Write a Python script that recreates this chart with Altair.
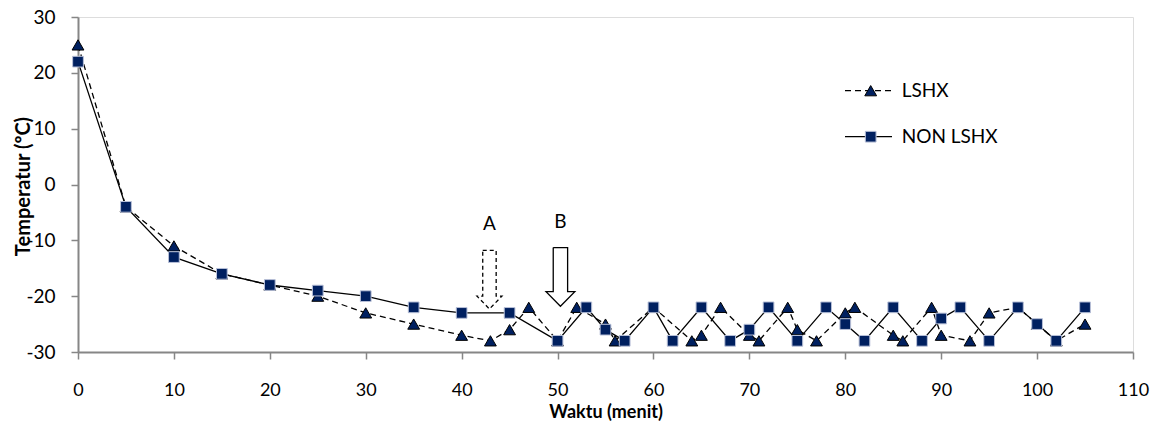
import altair as alt
import pandas as pd

# ---- data ----
series_names = ["LSHX", "NON LSHX"]

lshx_t = [0, 5, 10, 15, 20, 25, 30, 35, 40, 43, 45, 47, 50, 52, 55, 56, 60, 64, 65, 67,
          70, 71, 74, 75, 77, 80, 81, 85, 86, 89, 90, 93, 95, 98, 100, 102, 105]
lshx_v = [25, -4, -11, -16, -18, -20, -23, -25, -27, -28, -26, -22, -28, -22, -25, -28, -22, -28, -27, -22,
          -27, -28, -22, -26, -28, -23, -22, -27, -28, -22, -27, -28, -23, -22, -25, -28, -25]

non_t = [0, 5, 10, 15, 20, 25, 30, 35, 40, 45, 50, 53, 55, 57, 60, 62, 65, 68, 70, 72,
         75, 78, 80, 82, 85, 88, 90, 92, 95, 98, 100, 102, 105]
non_v = [22, -4, -13, -16, -18, -19, -20, -22, -23, -23, -28, -22, -26, -28, -22, -28, -22, -28, -26, -22,
         -28, -22, -25, -28, -22, -28, -24, -22, -28, -22, -25, -28, -22]

x_ticks = list(range(0, 111, 10))
y_ticks = list(range(-30, 31, 10))

# annotation anchors (label, centre x, label y, arrow top, head base, tip)
ann_labels = ["A", "B"]
ann_x = [42.9, 50.3]
ann_label_y = [-7.0, -6.7]
ann_top = [-11.8, -11.3]
ann_base = [-20.0, -19.2]
ann_tip = [-22.3, -21.8]

NAVY = "#002060"
GRAY = "#868686"
FONT = "Lato"

lshx = pd.DataFrame({"t": lshx_t, "v": lshx_v})
non = pd.DataFrame({"t": non_t, "v": non_v})

xs = alt.Scale(domain=[0, 110], nice=False, zero=False)
ys = alt.Scale(domain=[-30, 30], nice=False)

x_axis = alt.Axis(values=x_ticks, title="Waktu (menit)", grid=False, labelFlush=False,
                  labelFontSize=18, labelPadding=22, labelColor="black", labelFont=FONT,
                  tickSize=7, tickColor=GRAY, tickWidth=1.5, domainColor=GRAY, domainWidth=2,
                  titleFont=FONT, titleFontSize=18, titleFontWeight="bold", titleColor="black",
                  titleY=60, titleBaseline="middle")
y_axis = alt.Axis(values=y_ticks, title="Temperatur (ºC)", grid=False,
                  labelFontSize=19, labelPadding=16, labelColor="black", labelFont=FONT,
                  labelExpr="replace(datum.label, '\u2212', '-')",
                  tickSize=7, tickColor=GRAY, tickWidth=1.5, domainColor=GRAY, domainWidth=2,
                  titleFont=FONT, titleFontSize=20, titleFontWeight="bold", titleColor="black",
                  titleX=-55, titleY=169, titleAngle=-90, titleAlign="center", titleBaseline="middle")

X = alt.X("t:Q", scale=xs, axis=x_axis)
Y = alt.Y("v:Q", scale=ys, axis=y_axis)

lshx_line = alt.Chart(lshx).mark_line(color="black", strokeWidth=1.3, strokeDash=[6, 4]).encode(x=X, y=Y)
lshx_pts = alt.Chart(lshx).mark_point(shape="triangle-up", filled=True, fill=NAVY, stroke="black",
                                      strokeWidth=1, size=140, opacity=1).encode(x="t:Q", y="v:Q")
non_line = alt.Chart(non).mark_line(color="black", strokeWidth=1.3).encode(x="t:Q", y="v:Q")
non_pts = alt.Chart(non).mark_point(shape="square", filled=True, fill=NAVY, stroke="#b8c0d8",
                                    strokeWidth=1, size=115, opacity=1).encode(x="t:Q", y="v:Q")

# arrows built from anchors
rows = []
shaft = [0.7, 0.75]
head = [1.3, 1.5]
for i, lab in enumerate(ann_labels):
    cx, yt, yb, tip = ann_x[i], ann_top[i], ann_base[i], ann_tip[i]
    sw, hw = shaft[i], head[i]
    pts = [(cx - sw, yt), (cx + sw, yt), (cx + sw, yb), (cx + hw, yb), (cx, tip),
           (cx - hw, yb), (cx - sw, yb), (cx - sw, yt)]
    for k, (px, py) in enumerate(pts):
        rows.append({"arrow": lab, "k": k, "t": px, "v": py})
arrows = pd.DataFrame(rows)

arrow_a = alt.Chart(arrows[arrows.arrow == "A"]).mark_line(color="black", strokeWidth=1.3,
                                                          strokeDash=[4, 3]).encode(
    x="t:Q", y="v:Q", order="k:Q")
arrow_b = alt.Chart(arrows[arrows.arrow == "B"]).mark_line(color="black", strokeWidth=1.3).encode(
    x="t:Q", y="v:Q", order="k:Q")

ann_df = pd.DataFrame({"label": ann_labels, "t": ann_x, "v": ann_label_y})
ann_text = alt.Chart(ann_df).mark_text(fontSize=19, font=FONT, color="black").encode(
    x="t:Q", y="v:Q", text="label:N")

# manual legend (pixel positions inside plot area)
leg_df = pd.DataFrame({"label": series_names})
leg_rows_y = [73.7, 119.7]
leg_l1 = alt.Chart(leg_df[leg_df.label == series_names[0]]).mark_rule(
    color="black", strokeWidth=1.3, strokeDash=[6, 4]).encode(
    x=alt.value(767), x2=alt.value(814), y=alt.value(leg_rows_y[0]))
leg_p1 = alt.Chart(leg_df[leg_df.label == series_names[0]]).mark_point(
    shape="triangle-up", filled=True, fill=NAVY, stroke="black", strokeWidth=1, size=140, opacity=1).encode(
    x=alt.value(792.7), y=alt.value(leg_rows_y[0]))
leg_t1 = alt.Chart(leg_df[leg_df.label == series_names[0]]).mark_text(
    align="left", baseline="middle", fontSize=19, font=FONT, color="black").encode(
    x=alt.value(823.7), y=alt.value(leg_rows_y[0]), text="label:N")
leg_l2 = alt.Chart(leg_df[leg_df.label == series_names[1]]).mark_rule(
    color="black", strokeWidth=1.3).encode(
    x=alt.value(767), x2=alt.value(814), y=alt.value(leg_rows_y[1]))
leg_p2 = alt.Chart(leg_df[leg_df.label == series_names[1]]).mark_point(
    shape="square", filled=True, fill=NAVY, stroke="#b8c0d8", strokeWidth=1, size=115, opacity=1).encode(
    x=alt.value(792.7), y=alt.value(leg_rows_y[1]))
leg_t2 = alt.Chart(leg_df[leg_df.label == series_names[1]]).mark_text(
    align="left", baseline="middle", fontSize=19, font=FONT, color="black").encode(
    x=alt.value(823.7), y=alt.value(leg_rows_y[1]), text="label:N")

chart = alt.layer(
    lshx_line, lshx_pts, non_line, non_pts, arrow_a, arrow_b, ann_text,
    leg_l1, leg_p1, leg_t1, leg_l2, leg_p2, leg_t2
).properties(
    width=1055, height=335,
    autosize=alt.AutoSizeParams(type="none"),
    padding={"left": 70, "top": 9, "right": 18, "bottom": 69},
).configure_view(stroke="black", strokeWidth=1).configure(background="white")

chart.save("out.html", embed_options={"renderer": "svg", "actions": False})
